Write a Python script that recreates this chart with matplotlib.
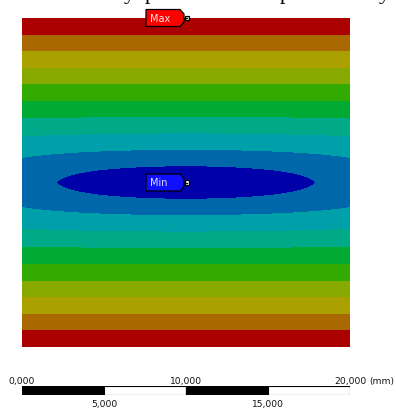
import numpy as np
import matplotlib
matplotlib.use("Agg")
import matplotlib.pyplot as plt
from matplotlib.patches import Polygon, Rectangle

# contour bands, lowest value first (ANSYS style, shaded)
band_colors = ["#0000AA", "#0068AA", "#00A0AA", "#00AA88", "#00AA33",
               "#33AA00", "#88AA00", "#AAA000", "#AA6800", "#AA0000"]
plate_w = 20.0          # mm
plate_h = 20.0          # mm
center = (10.0, 10.0)   # location of the minimum
lens_c = 0.0162         # widening of the low region along x
lens_decay = 1.27       # mm, how fast that widening fades away from the centre line
max_point = (10.0, 20.0)

# scale bar
bar_starts = [0, 5, 10, 15]
bar_colors = ["black", "white", "black", "white"]
top_ticks = [0, 10, 20]
bottom_ticks = [5, 15]

W, H = 396, 408
fig = plt.figure(figsize=(W / 100, H / 100), dpi=100)

# plate
ax = fig.add_axes([22 / W, 1 - 347 / H, 328 / W, 329 / H])
xx = np.linspace(0, plate_w, 600)
yy = np.linspace(0, plate_h, 600)
X, Y = np.meshgrid(xx, yy)
dy = np.abs(Y - center[1])
F = dy + lens_c * (X - center[0]) ** 2 * np.exp(-dy / lens_decay)
levels = np.linspace(F.min(), F.max(), len(band_colors) + 1)
ax.contourf(X, Y, F, levels=levels, colors=band_colors, antialiased=False)
ax.set_xlim(0, plate_w)
ax.set_ylim(0, plate_h)
ax.axis("off")

# scale bar in mm
sb = fig.add_axes([22 / W, 1 - 395 / H, 328 / W, 9 / H])
sb.bar(bar_starts, [5] * 4, width=5, align="edge", color=bar_colors,
       edgecolor="black", linewidth=0.8)
sb.set_xlim(0, plate_w)
sb.set_ylim(0, 5)
sb.axis("off")

def fmt(v):
    return f"{v:.3f}".replace(".", ",")

for t in top_ticks:
    sb.text(t, 1.25, fmt(t), transform=sb.get_xaxis_transform(),
            ha="center", va="baseline", fontsize=6.6, color="#111111")
sb.text(plate_w + 1.2, 1.25, "(mm)", transform=sb.get_xaxis_transform(),
        ha="left", va="baseline", fontsize=6.6, color="#111111")
for t in bottom_ticks:
    sb.text(t, -0.55, fmt(t), transform=sb.get_xaxis_transform(),
            ha="center", va="top", fontsize=6.6, color="#111111")

# overlay in pixel coordinates for the probe tags
ov = fig.add_axes([0, 0, 1, 1], zorder=5)
ov.set_xlim(0, W)
ov.set_ylim(H, 0)
ov.axis("off")
fig.canvas.draw()

def to_px(pt):
    dx, dy = ax.transData.transform(pt)
    return dx, H - dy

def tag(pt, label, fill, txtcolor):
    px, py = to_px(pt)
    px += 1
    L, R, T, B = px - 41, px - 3, py - 8.5, py + 8.5
    shape = [(L, T), (R - 4, T), (R, T + 4.5), (R, B - 4.5), (R - 4, B), (L, B)]
    ov.add_patch(Polygon(shape, closed=True, facecolor=fill,
                         edgecolor="black", linewidth=0.9))
    ov.plot([R, px], [py, py], color="black", lw=0.9)
    ov.add_patch(Rectangle((px - 2, py - 2.3), 4.2, 4.4, facecolor="white",
                           edgecolor="black", linewidth=0.9))
    ov.text(L + 4, py + 0.5, label, ha="left", va="center", fontsize=7,
            color=txtcolor)

tag(max_point, "Max", "#FF0000", "#FFE8E8")
tag(center, "Min", "#1010FF", "#E0E0FF")

# caption line above, mostly cut off by the image edge
for ch, xpos in [("y", 124), ("p", 145), ("p", 280), ("y", 379)]:
    ov.text(xpos, -1.5, ch, ha="left", va="baseline", fontsize=16,
            family="Liberation Serif", color="black")

fig.savefig("out.png", dpi=100)
